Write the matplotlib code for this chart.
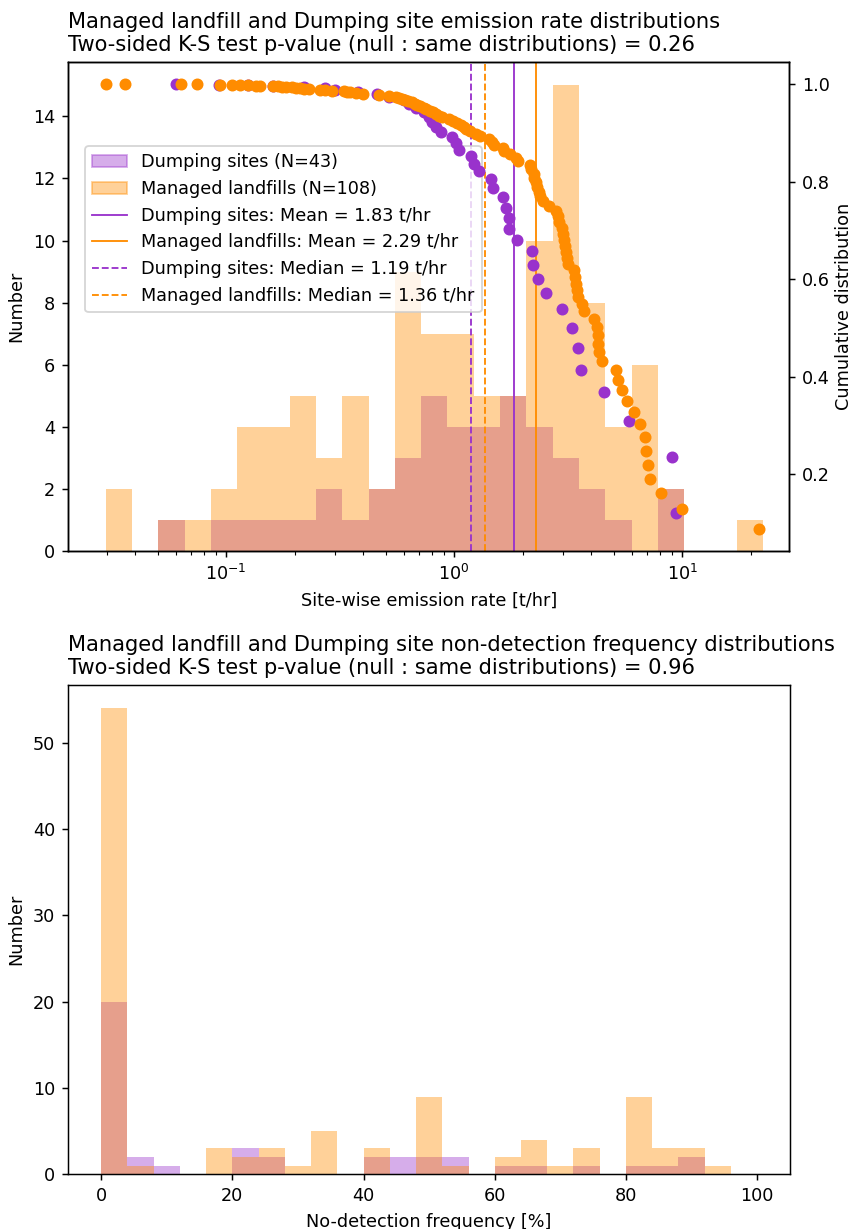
import numpy as np
import matplotlib
matplotlib.use("Agg")
import matplotlib.pyplot as plt
from matplotlib.patches import Patch
from matplotlib.lines import Line2D

DPI = 133.125
FIG_W, FIG_H = 852 / DPI, 1229 / DPI
plt.rcParams["font.size"] = 9.5

DUMP_COLOR = "darkorchid"
LANDFILL_COLOR = "darkorange"

# Site-wise emission rates [t/hr]
dumping_rates = [
    0.060, 0.093, 0.125, 0.16, 0.22, 0.27, 0.30, 0.38, 0.46, 0.52,
    0.60, 0.633, 0.68, 0.74, 0.776, 0.80, 0.83, 0.874, 0.983, 1.017,
    1.052, 1.19, 1.225, 1.289, 1.452, 1.475, 1.633, 1.69, 1.736, 1.736,
    1.883, 2.20, 2.215, 2.33, 2.54, 2.956, 3.28, 3.50, 3.61, 4.55,
    5.86, 9.03, 9.44,
]
landfill_rates = [
    0.0297, 0.036, 0.0635, 0.0745, 0.094, 0.106,
    0.115, 0.125, 0.135, 0.141, 0.160, 0.168, 0.175, 0.183,
    0.195, 0.203, 0.21, 0.22, 0.23, 0.258, 0.272, 0.292,
    0.328, 0.338, 0.35, 0.372, 0.40, 0.467, 0.52,
    0.556, 0.57, 0.59, 0.61, 0.63, 0.655, 0.67, 0.69, 0.705,
    0.735, 0.75, 0.78, 0.81, 0.83, 0.86, 0.888,
    0.95, 0.99, 1.034, 1.07, 1.10, 1.126, 1.17,
    1.246, 1.30, 1.42, 1.467, 1.50,
    1.645, 1.662, 1.75, 1.87, 1.90,
    2.14, 2.18, 2.24, 2.25, 2.28, 2.31, 2.35, 2.37, 2.45, 2.606,
    2.79, 2.856, 2.886, 2.96, 2.99, 3.02, 3.06, 3.10, 3.13, 3.16,
    3.36, 3.38, 3.42, 3.47, 3.50,
    3.63, 3.72, 4.12, 4.25, 4.26, 4.27, 4.32, 4.47,
    5.12, 5.22, 5.44, 5.72,
    6.12, 6.55, 6.89, 6.94, 7.08, 7.20,
    8.09, 9.95,
    21.8,
]

dump_mean, dump_median = 1.83, 1.19
landfill_mean, landfill_median = 2.29, 1.36
ks_p_emission = 0.26
ks_p_nodetect = 0.96

# log-spaced emission-rate bins
emission_bin_lo, emission_bin_hi, n_emission_bins = 0.0296, 22.63, 25

# No-detection frequency [%], 4 % wide bins from 0 to 100
nodetect_edges = list(range(0, 101, 4))
dumping_nodetect_counts = [20, 2, 1, 0, 0, 3, 2, 0, 0, 0, 2, 2, 2,
                           2, 0, 1, 1, 0, 1, 0, 1, 1, 2, 0, 0]
landfill_nodetect_counts = [54, 1, 0, 0, 3, 2, 3, 1, 5, 0, 3, 0, 9,
                            1, 0, 2, 4, 1, 3, 0, 9, 3, 3, 1, 0]


def emission_share_above(rates):
    """Sorted rates and the fraction of total emissions from sites at or above each."""
    v = np.sort(np.asarray(rates, dtype=float))
    share = v[::-1].cumsum()[::-1] / v.sum()
    return v, share


fig = plt.figure(figsize=(FIG_W, FIG_H), dpi=DPI)

# ---------------- emission-rate distributions ----------------
ax = fig.add_axes([68.3 / 852, 1 - 551 / 1229, 721 / 852, 489 / 1229])
bins = np.logspace(np.log10(emission_bin_lo), np.log10(emission_bin_hi),
                   n_emission_bins + 1)
ax.hist(dumping_rates, bins=bins, color=DUMP_COLOR, alpha=0.4)
ax.hist(landfill_rates, bins=bins, color=LANDFILL_COLOR, alpha=0.4)
ax.set_xscale("log")
ax.axvline(dump_mean, color=DUMP_COLOR, lw=1)
ax.axvline(landfill_mean, color=LANDFILL_COLOR, lw=1)
ax.axvline(dump_median, color=DUMP_COLOR, lw=1, ls="--")
ax.axvline(landfill_median, color=LANDFILL_COLOR, lw=1, ls="--")
ax.set_xlim(0.0203, 29.5)
ax.set_xlabel("Site-wise emission rate [t/hr]")
ax.set_ylabel("Number")
ax.set_title("Managed landfill and Dumping site emission rate distributions\n"
             f"Two-sided K-S test p-value (null : same distributions) = {ks_p_emission:.2f}",
             loc="left")

handles = [
    Patch(color=DUMP_COLOR, alpha=0.4),
    Patch(color=LANDFILL_COLOR, alpha=0.4),
    Line2D([], [], color=DUMP_COLOR, lw=1),
    Line2D([], [], color=LANDFILL_COLOR, lw=1),
    Line2D([], [], color=DUMP_COLOR, lw=1, ls="--"),
    Line2D([], [], color=LANDFILL_COLOR, lw=1, ls="--"),
]
labels = [
    f"Dumping sites (N={len(dumping_rates)})",
    f"Managed landfills (N={len(landfill_rates)})",
    f"Dumping sites: Mean = {dump_mean:.2f} t/hr",
    f"Managed landfills: Mean = {landfill_mean:.2f} t/hr",
    f"Dumping sites: Median = {dump_median:.2f} t/hr",
    f"Managed landfills: Median = {landfill_median:.2f} t/hr",
]
ax.legend(handles, labels, loc="upper left", bbox_to_anchor=(0.0232, 0.828),
          borderaxespad=0)

ax2 = ax.twinx()
xd, yd = emission_share_above(dumping_rates)
xl, yl = emission_share_above(landfill_rates)
ax2.scatter(xd, yd, s=30, color=DUMP_COLOR)
ax2.scatter(xl, yl, s=30, color=LANDFILL_COLOR)
ax2.set_ylabel("Cumulative distribution", labelpad=2.5)

# ---------------- non-detection frequency distributions ----------------
bx = fig.add_axes([68.3 / 852, 1 - 1174.3 / 1229, 721.7 / 852, 489.3 / 1229])
centers = [(a + b) / 2 for a, b in zip(nodetect_edges[:-1], nodetect_edges[1:])]
bx.hist(centers, bins=nodetect_edges, weights=dumping_nodetect_counts,
        color=DUMP_COLOR, alpha=0.4)
bx.hist(centers, bins=nodetect_edges, weights=landfill_nodetect_counts,
        color=LANDFILL_COLOR, alpha=0.4)
bx.set_xlabel("No-detection frequency [%]")
bx.set_ylabel("Number")
bx.set_title("Managed landfill and Dumping site non-detection frequency distributions\n"
             f"Two-sided K-S test p-value (null : same distributions) = {ks_p_nodetect:.2f}",
             loc="left")

fig.savefig("out.png", dpi=DPI)
